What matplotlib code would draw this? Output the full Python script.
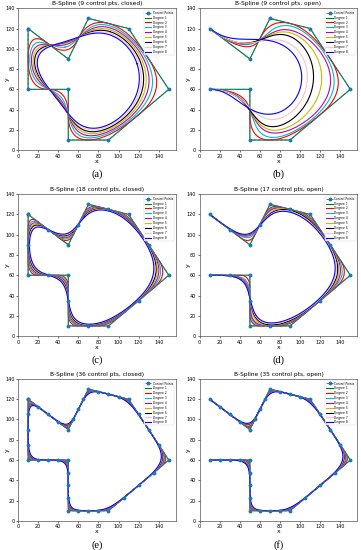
"""
B-spline curves of degree 1-8 through a fixed control polygon,
closed (periodic) and open (clamped), for three refinement levels.
"""
import numpy as np
import matplotlib
matplotlib.use("Agg")
import matplotlib.pyplot as plt

# control polygons
pts9_x = [10, 50, 70, 110, 150, 90, 50, 50, 10]
pts9_y = [120, 90, 130, 120, 60, 10, 10, 60, 60]

pts18_x = [10, 30, 50, 60, 70, 90, 110, 130, 150, 120, 90, 70, 50, 50, 50, 30, 10, 10]
pts18_y = [120, 105, 90, 110, 130, 125, 120, 90, 60, 35, 10, 10, 10, 35, 60, 60, 60, 90]

pts17_x = [10, 30, 50, 60, 70, 90, 110, 130, 150, 120, 90, 70, 50, 50, 50, 30, 10]
pts17_y = [120, 105, 90, 110, 130, 125, 120, 90, 60, 35, 10, 10, 10, 35, 60, 60, 60]

pts36_x = [10, 20, 30, 40, 50, 55, 60, 65, 70, 80, 90, 100, 110, 120, 130, 140, 150, 135,
           120, 105, 90, 80, 70, 60, 50, 50, 50, 50, 50, 40, 30, 20, 10, 10, 10, 10]
pts36_y = [120, 112.5, 105, 97.5, 90, 100, 110, 120, 130, 127.5, 125, 122.5, 120, 105, 90, 75,
           60, 47.5, 35, 22.5, 10, 10, 10, 10, 10, 22.5, 35, 47.5, 60, 60, 60, 60, 60, 75, 90, 105]

pts35_x = pts36_x[:33]
pts35_y = pts36_y[:33]

degrees = [1, 2, 3, 4, 5, 6, 7, 8]
colors = ["g", "r", "c", "m", "y", "k", "pink", "b"]
captions = ["(a)", "(b)", "(c)", "(d)", "(e)", "(f)"]


def bspline_basis(knots, k, u):
    n_basis = len(knots) - k - 1
    t = np.asarray(knots, dtype=float)
    N = ((u[:, None] >= t[None, :-1]) & (u[:, None] < t[None, 1:])).astype(float)
    for d in range(1, k + 1):
        new = np.zeros((len(u), len(t) - 1 - d))
        for i in range(len(t) - 1 - d):
            den1 = t[i + d] - t[i]
            den2 = t[i + d + 1] - t[i + 1]
            a = (u - t[i]) / den1 * N[:, i] if den1 > 0 else 0.0
            b = (t[i + d + 1] - u) / den2 * N[:, i + 1] if den2 > 0 else 0.0
            new[:, i] = a + b
        N = new
    return N[:, :n_basis]


def bspline(xs, ys, k, closed, num=500):
    P = np.column_stack([xs, ys]).astype(float)
    if closed:
        P = np.vstack([P, P[:k]])
        m = len(P)
        knots = np.arange(m + k + 1, dtype=float)
        lo, hi = k, m
    else:
        m = len(P)
        inner = np.linspace(0, 1, m - k + 1)
        knots = np.concatenate([[0.0] * k, inner, [1.0] * k])
        lo, hi = 0.0, 1.0
    u = np.linspace(lo, hi, num)
    u[-1] = hi - 1e-9
    N = bspline_basis(knots, k, u)
    C = N @ P
    return C[:, 0], C[:, 1]


panels = [
    (pts9_x, pts9_y, True, "B-Spline (9 control pts, closed)"),
    (pts9_x, pts9_y, False, "B-Spline (9 control pts, open)"),
    (pts18_x, pts18_y, True, "B-Spline (18 control pts, closed)"),
    (pts17_x, pts17_y, False, "B-Spline (17 control pts, open)"),
    (pts36_x, pts36_y, True, "B-Spline (36 control pts, closed)"),
    (pts35_x, pts35_y, False, "B-Spline (35 control pts, open)"),
]

fig = plt.figure(figsize=(3.61, 5.5), dpi=100)
lefts = [0.050, 0.553]
bottoms = [0.727, 0.389, 0.053]
cap_y = [0.684, 0.346, 0.009]
w, h = 0.437, 0.258

for idx, (xs, ys, closed, title) in enumerate(panels):
    r, c = divmod(idx, 2)
    ax = fig.add_axes([lefts[c], bottoms[r], w, h])
    cx = list(xs) + ([xs[0]] if closed else [])
    cy = list(ys) + ([ys[0]] if closed else [])
    ax.plot(cx, cy, "o--", color="#1f77b4", lw=0.6, ms=1.8, label="Control Points", zorder=3)
    for k, col in zip(degrees, colors):
        bx, by = bspline(xs, ys, k, closed)
        ax.plot(bx, by, color=col, lw=0.8, label=f"Degree {k}")
    ax.set_xlim(0, 157)
    ax.set_ylim(0, 140)
    ax.set_xticks(range(0, 141, 20))
    ax.set_yticks(range(0, 141, 20))
    ax.tick_params(labelsize=3.5, length=1.5, width=0.4, pad=1)
    ax.set_title(title, fontsize=4.2, pad=2)
    ax.set_xlabel("x", fontsize=4.5, labelpad=0)
    ax.set_ylabel("y", fontsize=4.5)
    ax.yaxis.set_label_coords(-0.055, 0.5)
    for s in ax.spines.values():
        s.set_linewidth(0.5)
        s.set_color("#555555")
    leg = ax.legend(loc="upper right", fontsize=2.2, frameon=True, handlelength=2.2,
                    borderpad=0.35, labelspacing=0.28, handletextpad=0.5, fancybox=False)
    leg.get_frame().set_linewidth(0.3)
    fig.text(lefts[c] + w / 2, cap_y[r], captions[idx], ha="center", va="center",
             fontsize=7.5, family="Liberation Serif")

fig.savefig("out.png", dpi=100)
